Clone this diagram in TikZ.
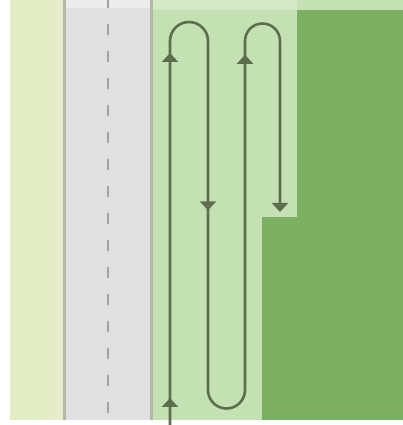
\documentclass[tikz,border=0pt]{standalone}
\usetikzlibrary{arrows.meta,decorations.markings}
\definecolor{paleyg}{HTML}{E0EDC3}
\definecolor{paleyg2}{HTML}{E6EBC9}
\definecolor{roadc}{HTML}{E0E0E3}
\definecolor{roadedge}{HTML}{B2B8A6}
\definecolor{dashc}{HTML}{A2A2A2}
\definecolor{lightg}{HTML}{C4E1B4}
\definecolor{lightgtop}{HTML}{D4E9C6}
\definecolor{darkg}{HTML}{7DAF63}
\definecolor{darkgb}{HTML}{77B061}
\definecolor{pathc}{HTML}{5D6E4F}
\tikzset{
  tipshape/.style={},
  route/.style={draw=pathc,line width=2.6pt,
    postaction={decorate},
    decoration={markings,
      mark=at position 27pt with {\arrow{Triangle[width=16pt,length=9pt]}},
      mark=at position 372pt with {\arrow{Triangle[width=16pt,length=9pt]}},
      mark=at position 613pt with {\arrow{Triangle[width=16pt,length=9pt]}},
      mark=at position 1186pt with {\arrow{Triangle[width=16pt,length=9pt]}}},
    -{Triangle[width=16pt,length=9pt]}},
}
\begin{document}
\begin{tikzpicture}[x=1pt,y=1pt]
\useasboundingbox (0,0) rectangle (403,425);
\fill[white] (0,0) rectangle (403,425);
% left verge
\fill[paleyg] (10,5) rectangle (46,425);
\fill[paleyg2] (46,5) rectangle (63,425);
% road
\fill[roadc] (63,5) rectangle (153,425);
\fill[roadc!60!white] (66,417) rectangle (150,425);
\fill[roadedge] (63,5) rectangle (66,425);
\fill[roadedge] (150,5) rectangle (153,425);
\draw[dashc,line width=2.2pt,dash pattern=on 11pt off 16pt,dash phase=3pt] (108,425) -- (108,5);
% light green field
\fill[lightg] (153,5) rectangle (297,425);
\fill[lightgtop] (153,415) rectangle (297,425);
\fill[lightg] (297,5) rectangle (403,425);
% dark green field
\fill[darkg] (297,208) rectangle (403,415);
\fill[darkg] (262,5) rectangle (403,208);
\fill[darkgb] (262,5) rectangle (403,12);
\fill[white] (0,0) rectangle (403,5);
% route
\coordinate (s) at (170,0);
\coordinate (t1) at (170,384);
\coordinate (b1) at (208,35);
\coordinate (t2) at (245,384);
\coordinate (e) at (280,213);
\draw[route] (s) -- (t1) arc[start angle=180,end angle=0,radius=19]
  -- (b1) arc[start angle=180,end angle=360,radius=18.5]
  -- (t2) arc[start angle=180,end angle=0,radius=17.5]
  -- (e);
\end{tikzpicture}
\end{document}
